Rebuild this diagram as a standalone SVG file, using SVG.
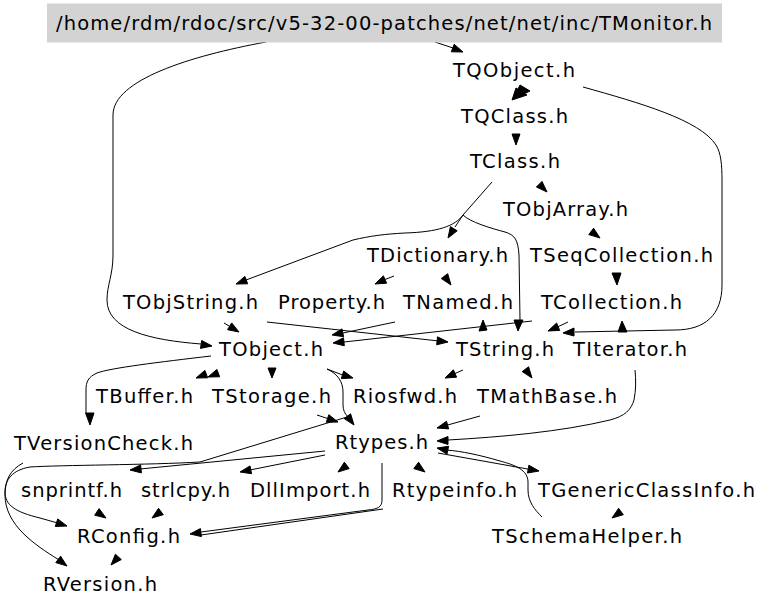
<svg xmlns="http://www.w3.org/2000/svg" width="768" height="608" viewBox="0 0 768 608">
<style>
text{font-family:"DejaVu Sans","Liberation Sans",sans-serif;font-size:19.5px;fill:#000;text-anchor:middle}
.e{fill:none;stroke:#000;stroke-width:1}
.ah{fill:#000;stroke:#000;stroke-width:1}
</style>
<rect width="768" height="608" fill="#fff"/>
<g id="connectors">
<path class="e" d="M435,42 L453,48"/>
<polygon class="ah" points="463,52 451.3,51.8 454.2,44.3"/>
<path class="e" d="M266,42 C190,56 113,80 113,115 L113,255 C113,275 107,285 107,300 C107,330 150,340 201,344"/>
<polygon class="ah" points="212,346 200.5,348.4 201.7,340.5"/>
<polygon class="ah" points="512,100 516,88 527,95"/>
<polygon class="ah" points="513,99 520,85 530,91"/>
<path class="e" d="M583,87 C640,103 700,120 716,145 C721,153 722,165 722,180 L722,285 C722,315 705,330 675,330 L575,332"/>
<polygon class="ah" points="563,333 574,328 574,336"/>
<polygon class="ah" points="512,134 520,134 516,145"/>
<polygon class="ah" points="547,192 536.4,187 542,181.4"/>
<path class="e" d="M492,182 L463,215 L455,227"/>
<polygon class="ah" points="448,238 450.4,226.6 457.2,230.8"/>
<path class="e" d="M463,215 C455,226 438,232 405,233 C385,234 370,236 353,240 L246,280"/>
<polygon class="ah" points="236,284 244.9,276.4 247.7,283.8"/>
<path class="e" d="M463,215 C470,222 490,228 505,232 C515,235 518,240 519,255 L520,320"/>
<polygon class="ah" points="514,320 523,320 518,331"/>
<polygon class="ah" points="600,238 588.8,234.6 593.6,228.2"/>
<polygon class="ah" points="612,273 621,273 617,285"/>
<path class="e" d="M394,276 L385,279.5"/>
<polygon class="ah" points="375,284 383.4,275.8 386.6,283.2"/>
<polygon class="ah" points="451,285 441.3,278.5 447.7,273.7"/>
<path class="e" d="M224,323 L229.6,326.3"/>
<polygon class="ah" points="239,332 227.5,329.7 231.7,322.9"/>
<path class="e" d="M267,322 L437,340.8"/>
<polygon class="ah" points="448,342 436.7,344.8 437.5,336.8"/>
<path class="e" d="M395,322 L343,333"/>
<polygon class="ah" points="332,335 342,328.9 343.6,336.7"/>
<path class="e" d="M532,321 L344,342"/>
<polygon class="ah" points="333,343 343.5,337.8 344.3,345.8"/>
<polygon class="ah" points="479,331 487,330 483,320"/>
<polygon class="ah" points="618,332 627,332 622,321"/>
<path class="e" d="M568,322 L558,326.7"/>
<polygon class="ah" points="548,331 556.6,323 559.7,330.4"/>
<polygon class="ah" points="196,378 204.9,370.4 207.7,377.8"/>
<polygon class="ah" points="208,377 216.9,369.4 219.7,376.8"/>
<polygon class="ah" points="268,368 276,368 272,378"/>
<path class="e" d="M327,369 L342,374.8"/>
<polygon class="ah" points="353,378 341.3,378.6 343.7,371"/>
<path class="e" d="M327,369 C338,374 343,382 343,392 L343,405 C343,410 345,414 347.4,416.2"/>
<polygon class="ah" points="354,425 344.2,418.6 350.6,413.8"/>
<path class="e" d="M211,356 C160,362 110,368 97,373 C88,377 86,382 86,390 L86,413"/>
<polygon class="ah" points="90,425 85.5,413 94,413"/>
<path class="e" d="M317,415 L327.5,418.5"/>
<polygon class="ah" points="338,422 326.3,422.3 328.8,414.7"/>
<path class="e" d="M347,417 L200,462 C150,465 60,465 30,467 C12,470 5,480 5,492 C5,505 15,512 40,518 L56.5,522.7"/>
<polygon class="ah" points="67,526 55.3,526.5 57.7,518.9"/>
<path class="e" d="M23,463 C10,470 5,480 5,495 C5,525 35,545 58.2,559.4"/>
<polygon class="ah" points="67,566 55.8,562.6 60.6,556.2"/>
<path class="e" d="M463,370 L455,373.5"/>
<polygon class="ah" points="445,378 453.4,369.8 456.6,377.2"/>
<polygon class="ah" points="532,378 522.2,371.6 528.6,366.8"/>
<path class="e" d="M635,370 C636,380 636,390 634,400 C631,410 625,416 610,420 C560,432 500,437 448,440"/>
<polygon class="ah" points="437,441 448,436.5 448,444.5"/>
<path class="e" d="M480,416 L447.6,425"/>
<polygon class="ah" points="437,428 446.5,421.2 448.7,428.9"/>
<path class="e" d="M325,451 L141,468.9"/>
<polygon class="ah" points="130,470 140.6,464.9 141.4,472.9"/>
<path class="e" d="M325,455 L250.8,469.8"/>
<polygon class="ah" points="240,472 250,465.9 251.6,473.7"/>
<polygon class="ah" points="338,472 344.4,462.2 349.2,468.6"/>
<polygon class="ah" points="425,472 413.8,468.6 418.6,462.2"/>
<path class="e" d="M438,453 L528.2,469.1"/>
<polygon class="ah" points="539,471 527.5,473 528.9,465.2"/>
<path class="e" d="M542,517 C535,510 528,502 528,490 L528,482 C528,470 515,465 500,461 C480,455 460,451 447.8,450.2"/>
<polygon class="ah" points="437,448 448.6,446.3 447,454.1"/>
<polygon class="ah" points="612,518 618.6,508.3 623.3,514.7"/>
<path class="e" d="M382,463 L382,500 C382,507 378,509 368,510 L201,532"/>
<path class="e" d="M383,509 L201,535"/>
<polygon class="ah" points="190,534 200.4,528.6 201.4,536.6"/>
<polygon class="ah" points="106,518 94.7,515.2 99.1,508.6"/>
<polygon class="ah" points="152,518 158.5,508.3 163.3,514.7"/>
<polygon class="ah" points="111,565 115.4,554.2 121.3,559.6"/>
</g>
<g id="TMonitor"><rect x="47" y="3.5" width="675" height="39" fill="#d3d3d3"/><text x="384" y="30" textLength="656">/home/rdm/rdoc/src/v5-32-00-patches/net/net/inc/TMonitor.h</text></g>
<g id="TQObject"><text x="514" y="77" textLength="122">TQObject.h</text></g>
<g id="TQClass"><text x="514.5" y="123" textLength="107">TQClass.h</text></g>
<g id="TClass"><text x="515" y="168" textLength="90">TClass.h</text></g>
<g id="TObjArray"><text x="565.5" y="216" textLength="125">TObjArray.h</text></g>
<g id="TDictionary"><text x="437.5" y="262" textLength="141">TDictionary.h</text></g>
<g id="TSeqCollection"><text x="621.5" y="262" textLength="183">TSeqCollection.h</text></g>
<g id="TObjString"><text x="190.5" y="309" textLength="135">TObjString.h</text></g>
<g id="Property"><text x="331.5" y="309" textLength="107">Property.h</text></g>
<g id="TNamed"><text x="458" y="309" textLength="110">TNamed.h</text></g>
<g id="TCollection"><text x="611.5" y="309" textLength="141">TCollection.h</text></g>
<g id="TObject"><text x="271" y="356" textLength="104">TObject.h</text></g>
<g id="TString"><text x="505" y="356" textLength="98">TString.h</text></g>
<g id="TIterator"><text x="630" y="356" textLength="114">TIterator.h</text></g>
<g id="TBuffer"><text x="144.5" y="403" textLength="97">TBuffer.h</text></g>
<g id="TStorage"><text x="271.5" y="403" textLength="119">TStorage.h</text></g>
<g id="Riosfwd"><text x="405" y="403" textLength="104">Riosfwd.h</text></g>
<g id="TMathBase"><text x="547" y="403" textLength="140">TMathBase.h</text></g>
<g id="TVersionCheck"><text x="103.5" y="450" textLength="179">TVersionCheck.h</text></g>
<g id="Rtypes"><text x="381.5" y="449" textLength="93">Rtypes.h</text></g>
<g id="snprintf"><text x="71.5" y="497" textLength="101">snprintf.h</text></g>
<g id="strlcpy"><text x="185.5" y="497" textLength="89">strlcpy.h</text></g>
<g id="DllImport"><text x="310" y="497" textLength="120">DllImport.h</text></g>
<g id="Rtypeinfo"><text x="454.5" y="497" textLength="125">Rtypeinfo.h</text></g>
<g id="TGenericClassInfo"><text x="646.5" y="497" textLength="217">TGenericClassInfo.h</text></g>
<g id="RConfig"><text x="128.5" y="543" textLength="103">RConfig.h</text></g>
<g id="TSchemaHelper"><text x="587" y="543" textLength="190">TSchemaHelper.h</text></g>
<g id="RVersion"><text x="100" y="591" textLength="114">RVersion.h</text></g>
</svg>
